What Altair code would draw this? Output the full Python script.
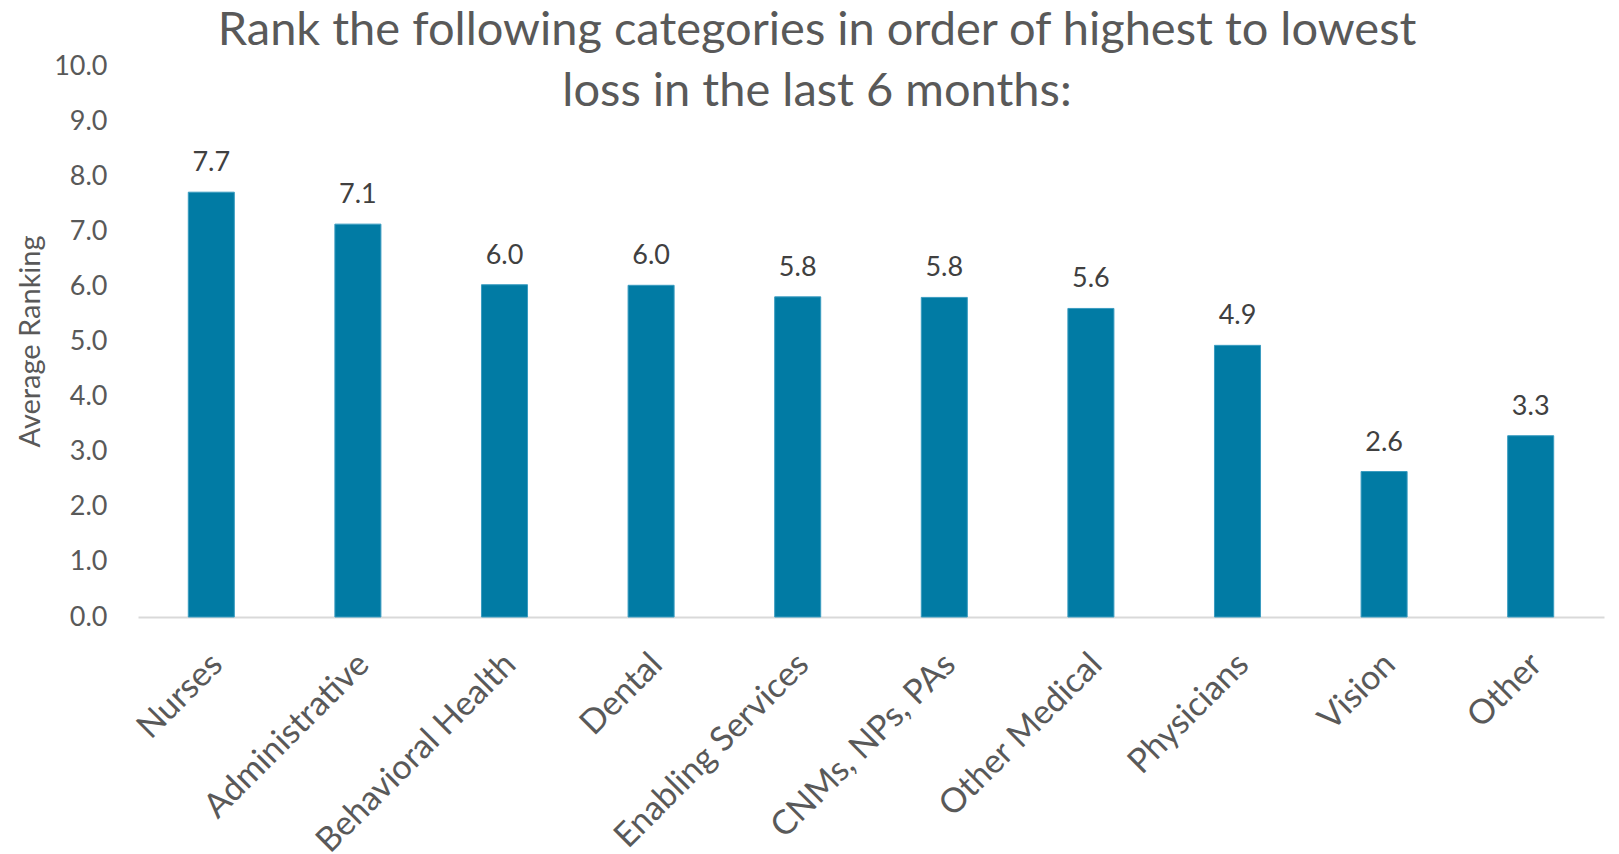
import altair as alt
import pandas as pd

categories = ["Nurses", "Administrative", "Behavioral Health", "Dental",
              "Enabling Services", "CNMs, NPs, PAs", "Other Medical",
              "Physicians", "Vision", "Other"]
avg_ranking = [7.71, 7.13, 6.03, 6.02, 5.81, 5.80, 5.60, 4.93, 2.64, 3.29]
y_ticks = [0, 1, 2, 3, 4, 5, 6, 7, 8, 9, 10]
title_lines = ["Rank the following categories in order of highest to lowest",
               "loss in the last 6 months:"]

df = pd.DataFrame({"category": categories, "value": avg_ranking})

FONT = "Lato"
GRAY = "#595959"

x_enc = alt.X("category:N", sort=categories, title=None,
              scale=alt.Scale(paddingInner=0.686, paddingOuter=0.343),
              axis=alt.Axis(labelAngle=-45, labelAlign="right", labelBaseline="middle",
                            labelPadding=42, labelOffset=6, ticks=False, tickSize=0,
                            domainColor="#D9D9D9", domainWidth=2,
                            labelFont=FONT, labelFontSize=34, labelColor=GRAY,
                            labelOverlap=False, labelLimit=0))
y_enc = alt.Y("value:Q", title="Average Ranking",
              scale=alt.Scale(domain=[0, 10], nice=False),
              axis=alt.Axis(values=y_ticks, format=".1f", grid=False, domain=False,
                            ticks=False, tickSize=0, labelPadding=31,
                            labelFont=FONT, labelFontSize=27, labelColor=GRAY,
                            titleFont=FONT, titleFontSize=29, titleColor=GRAY,
                            titleFontWeight="normal", titleAngle=270,
                            titleBaseline="alphabetic", titleAlign="center",
                            titleX=-99, titleY=275))

bars = alt.Chart(df).mark_bar(color="#017BA4", stroke="#3A9CC0", strokeWidth=1).encode(
    x=x_enc, y=y_enc)

labels = alt.Chart(df).mark_text(baseline="alphabetic", dy=-21, font=FONT,
                                 fontSize=27, color="#404040").encode(
    x=alt.X("category:N", sort=categories),
    y=alt.Y("value:Q"),
    text=alt.Text("value:Q", format=".1f"))

chart = alt.layer(bars, labels).properties(
    width=1466, height=551,
    background="white",
    title=alt.TitleParams(text=title_lines, font=FONT, fontSize=47, fontWeight="normal",
                          color=GRAY, anchor="middle", dx=-54, dy=101, lineHeight=61,
                          baseline="alphabetic", offset=0),
    autosize=alt.AutoSizeParams(type="none"),
    padding={"left": 130, "top": 58, "right": 7, "bottom": 237},
).configure_view(stroke="transparent", strokeWidth=0)

chart.save("out.html", embed_options={"renderer": "svg", "actions": False})
